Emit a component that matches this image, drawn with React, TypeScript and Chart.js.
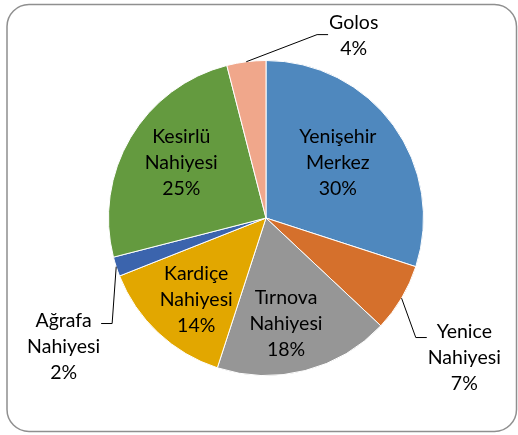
import React, { useEffect, useRef } from 'react';
import { Chart, registerables } from 'chart.js';

Chart.register(...registerables);

// ---- data ----
const categories = [
  'Yenişehir Merkez',
  'Yenice Nahiyesi',
  'Tırnova Nahiyesi',
  'Kardiçe Nahiyesi',
  'Ağrafa Nahiyesi',
  'Kesirlü Nahiyesi',
  'Golos',
];
const labelLines = [
  ['Yenişehir', 'Merkez'],
  ['Yenice', 'Nahiyesi'],
  ['Tırnova', 'Nahiyesi'],
  ['Kardiçe', 'Nahiyesi'],
  ['Ağrafa', 'Nahiyesi'],
  ['Kesirlü', 'Nahiyesi'],
  ['Golos'],
];
const shares = [30, 7, 18, 14, 2, 25, 4];

// ---- styles ----
const sliceColors = ['#4F88BE', '#D5702C', '#969696', '#E2A700', '#3B64AD', '#649A3F', '#F0A78B'];
const FONT = '19.5px Lato, "Open Sans", sans-serif';
const LINE_H = 26;

// label placement relative to pie centre, in units of the pie radius
type Place = { dx: number; dy: number; leader?: { side: 'left' | 'right'; dy: number } };
const placement: Place[] = [
  { dx: 0.456, dy: -0.348 },
  { dx: 1.259, dy: 0.886, leader: { side: 'left', dy: -20 } },
  { dx: 0.127, dy: 0.671 },
  { dx: -0.443, dy: 0.519 },
  { dx: -1.285, dy: 0.816, leader: { side: 'right', dy: -23 } },
  { dx: -0.538, dy: -0.348 },
  { dx: 0.557, dy: -1.158, leader: { side: 'left', dy: -1 } },
];

const framePlugin = {
  id: 'frame',
  beforeDraw(chart: any) {
    const ctx = chart.ctx;
    ctx.save();
    ctx.fillStyle = '#ffffff';
    ctx.fillRect(0, 0, chart.width, chart.height);
    ctx.beginPath();
    ctx.roundRect(7, 4.5, chart.width - 8.5, chart.height - 8, 22);
    ctx.strokeStyle = '#8F8F8F';
    ctx.lineWidth = 1.5;
    ctx.stroke();
    ctx.restore();
  },
};

const labelPlugin = {
  id: 'sliceLabels',
  afterDatasetsDraw(chart: any) {
    const ctx = chart.ctx;
    const meta = chart.getDatasetMeta(0);
    ctx.save();
    ctx.font = FONT;
    ctx.fillStyle = '#000';
    ctx.textAlign = 'center';
    ctx.textBaseline = 'middle';
    meta.data.forEach((arc: any, i: number) => {
      const p = arc.getProps(['x', 'y', 'startAngle', 'endAngle', 'outerRadius'], true);
      const R = p.outerRadius;
      const lx = p.x + placement[i].dx * R;
      const ly = p.y + placement[i].dy * R;
      const lines = [...labelLines[i], `${shares[i]}%`];
      const top = ly - ((lines.length - 1) / 2) * LINE_H;
      let maxW = 0;
      lines.forEach((t, k) => {
        maxW = Math.max(maxW, ctx.measureText(t).width);
        ctx.fillText(t, lx, top + k * LINE_H);
      });
      const ld = placement[i].leader;
      if (ld) {
        const mid = (p.startAngle + p.endAngle) / 2;
        const sx = p.x + Math.cos(mid) * R;
        const sy = p.y + Math.sin(mid) * R;
        const yy = ly + ld.dy;
        const ex = ld.side === 'left' ? lx - maxW / 2 - 1 : lx + maxW / 2 + 1;
        const bx = ld.side === 'left' ? ex - 11 : ex + 11;
        ctx.beginPath();
        ctx.moveTo(sx, sy);
        ctx.lineTo(bx, yy);
        ctx.lineTo(ex, yy);
        ctx.strokeStyle = '#000';
        ctx.lineWidth = 1;
        ctx.stroke();
      }
    });
    ctx.restore();
  },
};

export default function App() {
  const ref = useRef<HTMLCanvasElement | null>(null);
  useEffect(() => {
    if (!ref.current) return;
    const chart = new Chart(ref.current, {
      type: 'pie',
      data: {
        labels: categories,
        datasets: [
          {
            data: shares,
            backgroundColor: sliceColors,
            borderColor: '#ffffff',
            borderWidth: 1,
          },
        ],
      },
      options: {
        animation: false,
        responsive: true,
        maintainAspectRatio: false,
        layout: { padding: { left: 108, right: 94, top: 60, bottom: 59 } },
        plugins: { legend: { display: false }, tooltip: { enabled: false } },
      },
      plugins: [framePlugin, labelPlugin],
    });
    return () => chart.destroy();
  }, []);
  return (
    <div style={{ position: 'fixed', left: 0, top: 0, width: 518, height: 435 }}>
      <canvas ref={ref} />
    </div>
  );
}
